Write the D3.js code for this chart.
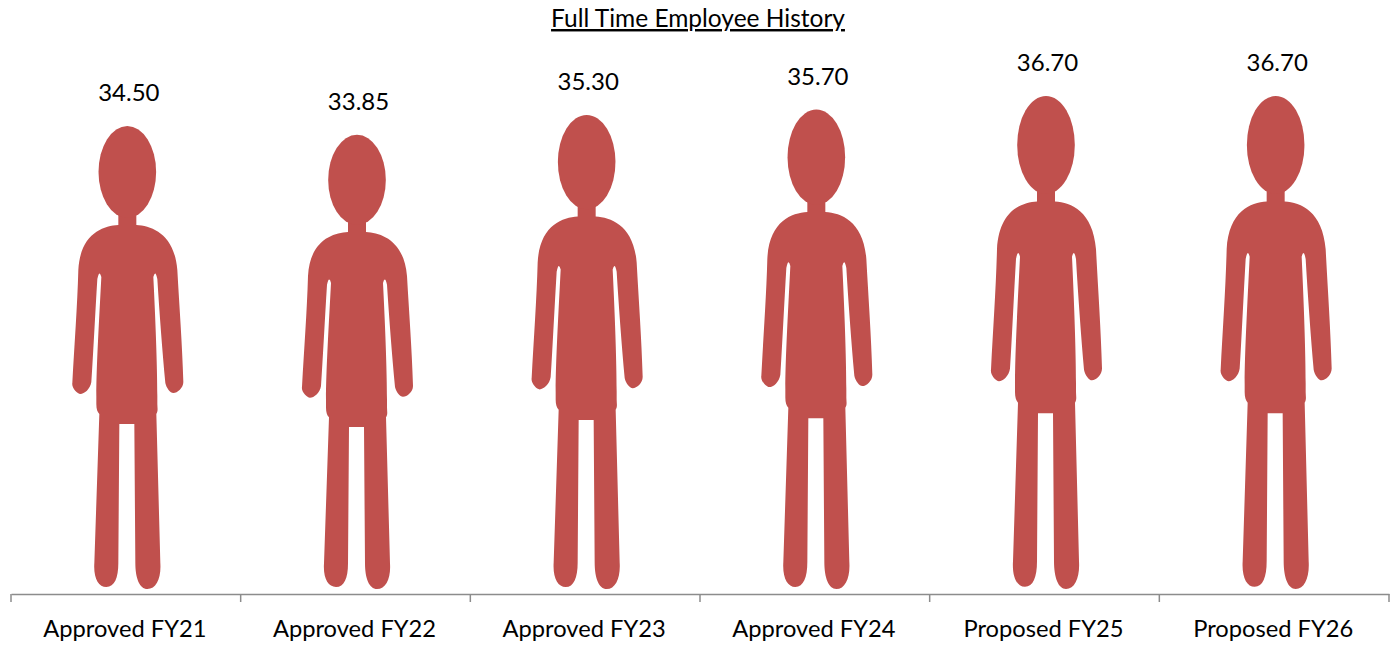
<!DOCTYPE html>
<html><head><meta charset="utf-8">
<script src="https://cdn.jsdelivr.net/npm/d3@7/dist/d3.min.js"></script>
<style>html,body{margin:0;padding:0;background:#fff}svg{display:block}text{font-family:Lato,"Open Sans",sans-serif;fill:#000}</style>
</head><body><svg id="c" width="1393" height="645"></svg>
<script>
const categories = ["Approved FY21","Approved FY22","Approved FY23","Approved FY24","Proposed FY25","Proposed FY26"];
const values = [34.50,33.85,35.30,35.70,36.70,36.70];
const title = "Full Time Employee History";

// person outline in its own 463-unit-tall drawing space
const PERSON_H = 463;
const BODY = "M-9,85 L-9,99 C-25,100 -47,108 -49,144 C-50,180 -53,220 -55,257 C-56,262 -50,268 -47,268 C-43,268 -37,263 -36,256 C-34,225 -32,185 -30,153 Q-28,143 -26,151 C-28,190 -31,240 -31,270 L-31,278 C-31,283 -30,286 -28,288 L-33,437 C-34,452 -29,461 -21,461 C-13,461 -9,452 -9,437 L-8,298 L7,298 L8,437 C8,452 12,463 20,463 C29,463 34,452 33,437 L29,288 C31,285 30,282 30,278 L30,270 C30,240 28,190 26,151 Q28,143 30,153 C32,185 35,225 38,257 C39,262 43,267 46,267 C50,267 56,262 56,256 C55,220 52,180 50,144 C47,108 25,100 9,99 L9,85 Z";
const HEAD = "M-28.8,46 A28.8,46 0 1 1 28.8,46 A28.8,46 0 1 1 -28.8,46 Z";

const svg = d3.select("#c");
const x = d3.scaleBand().domain(categories).range([11,1389]);
const y = d3.scaleLinear().domain([0,36.7]).range([595,96]);
const floor = 589;

svg.append("text").attr("x",698).attr("y",27).attr("text-anchor","middle")
  .attr("font-size",24.5).attr("text-decoration","underline").text(title);

const g = svg.selectAll("g.p").data(categories).join("g").attr("class","p");
const fig = g.append("g")
  .attr("transform",(c,i)=>`translate(${x(c)+x.bandwidth()/2+1.5},${y(values[i])}) scale(1,${(floor-y(values[i]))/PERSON_H})`);
fig.append("path").attr("d",BODY).attr("fill","#C0504D");
fig.append("path").attr("d",HEAD).attr("fill","#C0504D");
g.append("text").attr("x",c=>x(c)+x.bandwidth()/2+3).attr("y",(c,i)=>y(values[i])-25)
  .attr("text-anchor","middle").attr("font-size",24).text((c,i)=>values[i].toFixed(2));

const axis = d3.axisBottom(x).tickSize(0).tickPadding(0);
const ax = svg.append("g").attr("transform","translate(0,594)").call(axis);
ax.select(".domain").attr("stroke","#8c8c8c").attr("stroke-width",1.5);
ax.selectAll(".tick text").remove();
const edges = categories.map(c=>x(c)).concat(x.range()[1]);
ax.selectAll("line.t").data(edges).join("line").attr("class","t")
  .attr("x1",d=>d).attr("x2",d=>d).attr("y1",0).attr("y2",8)
  .attr("stroke","#8c8c8c").attr("stroke-width",1.5);
svg.selectAll("text.l").data(categories).join("text").attr("class","l")
  .attr("x",c=>x(c)+x.bandwidth()/2-1).attr("y",637).attr("text-anchor","middle")
  .attr("font-size",23.7).text(c=>c);
</script></body></html>
